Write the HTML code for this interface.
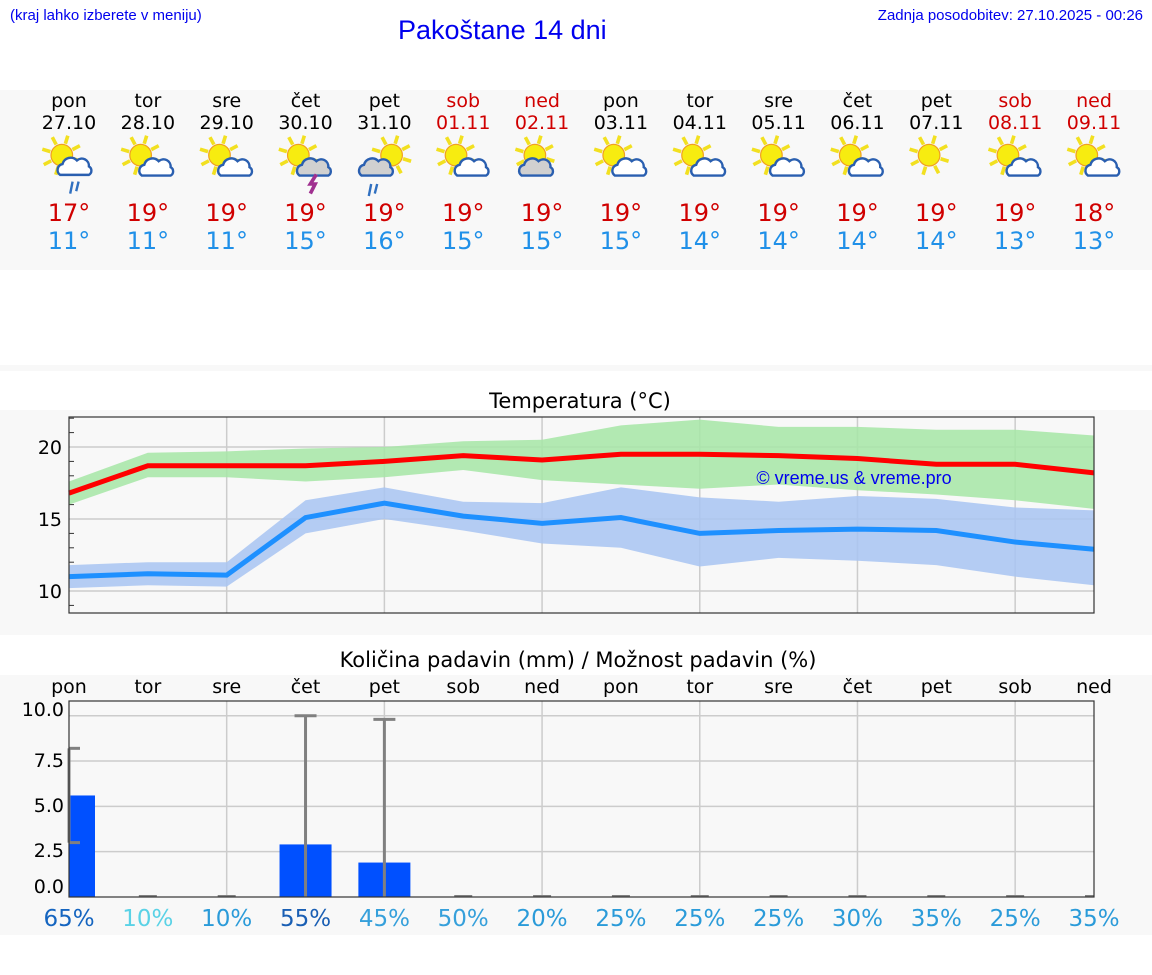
<!DOCTYPE html>
<html><head><meta charset="utf-8">
<style>
body{margin:0;width:1152px;height:975px;background:#fff;font-family:"DejaVu Sans","Liberation Sans",sans-serif;position:relative;overflow:hidden}
.abs{position:absolute}
</style></head>
<body>
<div class="abs" style="left:10px;top:7px;font:15px 'Liberation Sans',sans-serif;color:#0000ee">(kraj lahko izberete v meniju)</div>
<div class="abs" style="left:398px;top:15px;font:27px 'Liberation Sans',sans-serif;color:#0000ee">Pakoštane 14 dni</div>
<div class="abs" style="right:9px;top:7px;font:15px 'Liberation Sans',sans-serif;color:#0000ee">Zadnja posodobitev: 27.10.2025 - 00:26</div>
<div class="abs" style="left:0;top:90px;width:1152px;height:180px;background:#f8f8f8"></div>
<div class="abs" style="left:0;top:365px;width:1152px;height:6px;background:#f8f8f8"></div>
<div class="abs" style="left:0;top:410px;width:1152px;height:225px;background:#f8f8f8"></div>
<div class="abs" style="left:0;top:675px;width:1152px;height:260px;background:#f8f8f8"></div>
<svg class="abs" style="left:0;top:0" width="1152" height="975" id="svg"></svg>
<script>
const days=["pon","tor","sre","čet","pet","sob","ned","pon","tor","sre","čet","pet","sob","ned"];
const dates=["27.10","28.10","29.10","30.10","31.10","01.11","02.11","03.11","04.11","05.11","06.11","07.11","08.11","09.11"];
const icons=["rain","cloud","cloud","storm","rainc","cloud","grey","cloud","cloud","cloud","cloud","sun","cloud","cloud"];
const hiLabels=[17,19,19,19,19,19,19,19,19,19,19,19,19,18];
const loLabels=[11,11,11,15,16,15,15,15,14,14,14,14,13,13];
const tMax=[16.8,18.7,18.7,18.7,19.0,19.4,19.1,19.5,19.5,19.4,19.2,18.8,18.8,18.2];
const tMaxHi=[17.6,19.6,19.7,19.9,20.0,20.4,20.5,21.5,21.9,21.4,21.4,21.2,21.2,20.8];
const tMaxLo=[16.0,17.9,17.9,17.6,17.9,18.4,17.7,17.4,17.1,17.4,17.0,16.7,16.3,15.7];
const tMin=[11.0,11.2,11.1,15.1,16.1,15.2,14.7,15.1,14.0,14.2,14.3,14.2,13.4,12.9];
const tMinHi=[11.8,12.0,12.0,16.3,17.2,16.2,16.1,17.2,16.5,16.2,16.6,16.4,15.8,15.6];
const tMinLo=[10.2,10.4,10.3,14.0,15.0,14.2,13.3,13.0,11.7,12.3,12.1,11.8,11.0,10.4];
const tTicks=[10,15,20];
const precip=[5.6,0,0,2.9,1.9,0,0,0,0,0,0,0,0,0];
const errLo=[3.0,0,0,0,0,0,0,0,0,0,0,0,0,0];
const errHi=[8.2,0,0,10.0,9.8,0,0,0,0,0,0,0,0,0];
const pTicks=["0.0","2.5","5.0","7.5","10.0"];
const prob=[65,10,10,55,45,50,20,25,25,25,30,35,25,35];
const probColors=["#1565c0","#5ad2e6","#2b9bd9","#1a5fb4","#36a0db","#36a0db","#2b9bd9","#2b9bd9","#2b9bd9","#2b9bd9","#2b9bd9","#2b9bd9","#2b9bd9","#2b9bd9"];

const NS="http://www.w3.org/2000/svg";
const svg=document.getElementById('svg');
function el(t,a,parent){const e=document.createElementNS(NS,t);for(const k in a)e.setAttribute(k,a[k]);(parent||svg).appendChild(e);return e;}
const X0=69,X1=1094;
const x=i=>X0+i*(X1-X0)/13;
const yT=v=>447-(v-20)*14.4;
const yP=v=>897-v*18.13;
const red=["sob","ned"];

days.forEach((d,i)=>{
  const c=red.includes(d)&&i>=5?"#d00000":"#000";
  let t=el('text',{x:x(i),y:107,'text-anchor':'middle','font-size':19,fill:c});t.textContent=d;
  
  
  t=el('text',{x:x(i),y:129,'text-anchor':'middle','font-size':19,fill:c});t.textContent=dates[i];
  
  
  t=el('text',{x:x(i),y:221,'text-anchor':'middle','font-size':24,fill:"#d00000"});t.textContent=hiLabels[i]+"°";
  
  
  t=el('text',{x:x(i),y:249,'text-anchor':'middle','font-size':24,fill:"#2090e8"});t.textContent=loLabels[i]+"°";
  
  
  const g=el('g',{transform:`translate(${x(i)},160) scale(1.2)`});
  
  
  const typ=icons[i];
  const sx=typ==="rainc"?6:-6, sy=-4;
  for(let k=0;k<8;k++){const a=k*Math.PI/4+0.3;el('line',{x1:sx+Math.cos(a)*10,y1:sy+Math.sin(a)*10,x2:sx+Math.cos(a)*17,y2:sy+Math.sin(a)*17,stroke:'#f2e020','stroke-width':3},g);}
  el('circle',{cx:sx,cy:sy,r:9,fill:'#f7ec10',stroke:'#f0a020','stroke-width':1},g);
  if(typ!=="sun"){
    const grey=(typ==="storm"||typ==="rainc"||typ==="grey");
    const cx=typ==="rainc"?-7:(typ==="grey"?-5:7), cy=typ==="rain"?4:6;
    const s=typ==="rain"?1.2:1;
    el('path',{d:`M${cx-12*s},${cy+7*s} a5 5 0 0 1 2,-9 a7 7 0 0 1 12,-3 a6 6 0 0 1 10,5 a4 4 0 0 1 0,7 z`,fill:grey?'#d0d0d0':'#fff',stroke:'#2a5fb0','stroke-width':2},g);
    if(typ==="rain"||typ==="rainc"){el('path',{d:`M${cx-4},${cy+14} l-2,10 M${cx+1},${cy+14} l-2,8`,stroke:'#3070c0','stroke-width':2},g);}
    if(typ==="storm"){el('path',{d:`M${cx+2},${cy+6} l-5,8 h4 l-4,8`,stroke:'#a03090','stroke-width':3,fill:'none'},g);}
  }
});

let t=el('text',{x:580,y:408,'text-anchor':'middle','font-size':21});t.textContent="Temperatura (°C)";


el('rect',{x:X0,y:417,width:X1-X0,height:196,fill:'#f8f8f8'});
for(let v=9;v<=22;v++){el('line',{x1:X0,x2:X0+5,y1:yT(v),y2:yT(v),stroke:'#333','stroke-width':1});}
tTicks.forEach(v=>{el('line',{x1:X0,x2:X1,y1:yT(v),y2:yT(v),stroke:'#ccc','stroke-width':1.5});
  const tt=el('text',{x:62,y:yT(v)+7,'text-anchor':'end','font-size':19});tt.textContent=v;
  
  });
for(let i=2;i<14;i+=2)el('line',{x1:x(i),x2:x(i),y1:417,y2:613,stroke:'#ccc','stroke-width':1.5});
function band(hi,lo,fill,name){let d="M"+hi.map((v,i)=>x(i)+","+yT(v)).join(" L")+" L"+lo.map((v,i)=>x(i)+","+yT(v)).reverse().join(" L")+"Z";
  const p=el('path',{d,fill,opacity:0.85});}
band(tMaxHi,tMaxLo,'#a6e6a6','max-temp-range');
band(tMinHi,tMinLo,'#a8c4f2','min-temp-range');
let p=el('polyline',{points:tMax.map((v,i)=>x(i)+","+yT(v)).join(" "),fill:'none',stroke:'#ff0000','stroke-width':5});


p=el('polyline',{points:tMin.map((v,i)=>x(i)+","+yT(v)).join(" "),fill:'none',stroke:'#1e90ff','stroke-width':5});


t=el('text',{x:854,y:484,'text-anchor':'middle','font-size':18,fill:'#0000ee','font-family':'Liberation Sans'});t.textContent="© vreme.us & vreme.pro";


el('rect',{x:X0,y:417,width:X1-X0,height:196,fill:'none',stroke:'#333','stroke-width':1.2});

t=el('text',{x:578,y:667,'text-anchor':'middle','font-size':21});t.textContent="Količina padavin (mm) / Možnost padavin (%)";


days.forEach((d,i)=>{const tt=el('text',{x:x(i),y:693,'text-anchor':'middle','font-size':19});tt.textContent=d;
  
  });
[2.5,5,7.5,10].forEach(v=>el('line',{x1:X0,x2:X1,y1:yP(v),y2:yP(v),stroke:'#ccc','stroke-width':1.5}));
for(let i=2;i<14;i+=2)el('line',{x1:x(i),x2:x(i),y1:701,y2:897,stroke:'#ccc','stroke-width':1.5});
precip.forEach((v,i)=>{
  if(v>0){const r=el('rect',{x:Math.max(X0,x(i)-26),y:yP(v),width:x(i)+26-Math.max(X0,x(i)-26),height:yP(0)-yP(v),fill:'#0050ff'});
    
    }
  if(errHi[i]>0){el('line',{x1:x(i),x2:x(i),y1:yP(errLo[i]),y2:yP(errHi[i]),stroke:'#808080','stroke-width':3});
    el('line',{x1:Math.max(X0,x(i)-11),x2:x(i)+11,y1:yP(errHi[i]),y2:yP(errHi[i]),stroke:'#808080','stroke-width':3});
    if(errLo[i]>0)el('line',{x1:Math.max(X0,x(i)-11),x2:x(i)+11,y1:yP(errLo[i]),y2:yP(errLo[i]),stroke:'#808080','stroke-width':3});}
  else el('line',{x1:x(i)-9,x2:Math.min(X1,x(i)+9),y1:yP(0)-1,y2:yP(0)-1,stroke:'#808080','stroke-width':2});
  const tt=el('text',{x:x(i),y:926,'text-anchor':'middle','font-size':23,fill:probColors[i]});tt.textContent=prob[i]+"%";
  
  
});
el('rect',{x:X0,y:701,width:X1-X0,height:196,fill:'none',stroke:'#333','stroke-width':1.2});
const pLabY=[886,850,805,760,709];
pTicks.forEach((s,k)=>{const tt=el('text',{x:64,y:pLabY[k]+7,'text-anchor':'end','font-size':19});tt.textContent=s;
  
  });
</script>
</body></html>
